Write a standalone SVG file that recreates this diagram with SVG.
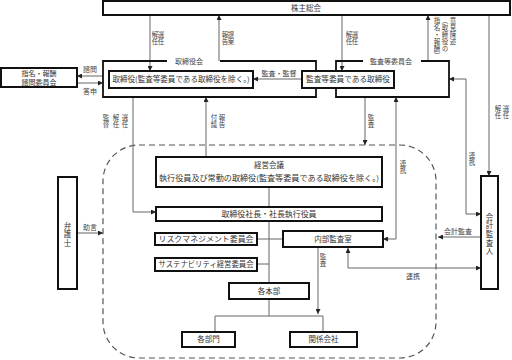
<svg xmlns="http://www.w3.org/2000/svg" width="512" height="360" viewBox="0 0 512 360">
<style>
text{font-family:"Noto Sans CJK JP","Noto Sans CJK SC",sans-serif;fill:#333}
.bt{font-size:7.5px;text-anchor:middle}
.lb{font-size:7px;text-anchor:middle;fill:#444}
.vt{font-size:6.5px;writing-mode:vertical-rl;fill:#444;letter-spacing:0.5px}
.vb{font-size:7.5px;writing-mode:vertical-rl;letter-spacing:1.2px}
.box{fill:#fff;stroke:#111;stroke-width:2}
.obox{fill:none;stroke:#111;stroke-width:1.8}
.ln{fill:none;stroke:#666;stroke-width:1}
.ar{fill:none;stroke:#666;stroke-width:1;marker-end:url(#ah)}
.ar2{fill:none;stroke:#666;stroke-width:1;marker-end:url(#ah);marker-start:url(#ah)}
.dash{fill:none;stroke:#555;stroke-width:1.2;stroke-dasharray:6 4}
</style>
<defs>
<marker id="ah" viewBox="0 0 10 10" refX="10" refY="5" markerWidth="5" markerHeight="5" markerUnits="userSpaceOnUse" orient="auto-start-reverse">
<path d="M0,0 L10,5 L0,10 Z" fill="#222"/>
</marker>
</defs>

<rect class="dash" x="103" y="145" width="333" height="213" rx="36"/>

<g id="connectors">
<path class="ar" d="M150,15 V71"/>
<path class="ar" d="M219,61 V15"/>
<path class="ar" d="M342,15 V71"/>
<path class="ar" d="M428,61 V15"/>
<path class="ar" d="M489,15 V176"/>
<path class="ar" d="M103,76 H77"/>
<path class="ar" d="M77,83 H103"/>
<path class="ar" d="M302,79 H253"/>
<path class="ar2" d="M481,214 H466 V79 H449"/>
<path class="ar" d="M133,97 V212 H156"/>
<path class="ar" d="M206,157 V97"/>
<path class="ar" d="M365,97 V145"/>
<path class="ar2" d="M396,97 V239 H383"/>
<path class="ar" d="M481,237 H438"/>
<path class="ar2" d="M348,248 V268 H481"/>
<path class="ar" d="M77,233 H103"/>
<path class="ln" d="M269,187 V207 M269,221 V283 M257,239 H283 M257,264 H269 M269,299 V316 M215,316 H323 M215,316 V332 M323,316 V332"/>
<path class="ar" d="M318,248 V314"/>
</g>

<g id="labels">
<text class="vt" x="161" y="31">選任</text>
<text class="vt" x="155" y="31">解任</text>
<text class="vt" x="231" y="31">提案</text>
<text class="vt" x="225" y="31">報告</text>
<text class="vt" x="355" y="31">選任</text>
<text class="vt" x="349" y="31">解任</text>
<text class="vt" x="453" y="17">意見陳述</text>
<text class="vt" x="445" y="17">（取締役の</text>
<text class="vt" x="437" y="17">指名・報酬）</text>
<text class="vt" x="506" y="105">選任</text>
<text class="vt" x="498" y="105">解任</text>
<text class="vt" x="125" y="114">選任</text>
<text class="vt" x="116" y="114">解任</text>
<text class="vt" x="106" y="114">監督</text>
<text class="vt" x="222" y="114">報告</text>
<text class="vt" x="214" y="114">付議</text>
<text class="vt" x="371" y="114">監査</text>
<text class="vt" x="403" y="160">連携</text>
<text class="vt" x="472" y="152">連携</text>
<text class="vt" x="323" y="253">監査</text>
<text class="lb" x="90" y="71.5">諮問</text>
<text class="lb" x="90" y="93.5">答申</text>
<text class="lb" x="279" y="75.5">監査・監督</text>
<text class="lb" x="458" y="234">会計監査</text>
<text class="lb" x="413" y="278.5">連携</text>
<text class="lb" x="90" y="229.5">助言</text>
</g>

<g id="shareholders">
<rect class="box" x="103" y="1" width="407" height="14"/>
<text class="bt" x="306" y="10.8">株主総会</text>
</g>

<g id="board">
<path class="obox" d="M167,61 H103 V97 H316 V61 H220"/>
<text class="lb" x="189" y="63.5">取締役会</text>
</g>

<g id="audit-committee">
<path class="obox" d="M363,61 H336 V97 H449 V61 H421"/>
<text class="lb" x="391" y="63.5">監査等委員会</text>
</g>

<g id="directors">
<rect class="box" x="109" y="71" width="144" height="17"/>
<text class="bt" x="181" y="82" textLength="137" lengthAdjust="spacingAndGlyphs">取締役(監査等委員である取締役を除く。)</text>
</g>

<g id="audit-directors">
<rect class="box" x="302" y="71" width="92" height="17"/>
<text class="bt" x="348" y="82" textLength="84" lengthAdjust="spacingAndGlyphs">監査等委員である取締役</text>
</g>

<g id="nomination">
<rect class="box" x="1" y="68" width="76" height="19"/>
<text class="bt" x="39" y="76" style="font-size:7px">指名・報酬</text>
<text class="bt" x="39" y="84.5" style="font-size:7px">諮問委員会</text>
</g>

<g id="management-meeting">
<rect class="box" x="156" y="157" width="226" height="30"/>
<text class="bt" x="269" y="167.5">経営会議</text>
<text class="bt" x="269" y="180.5" textLength="220" lengthAdjust="spacingAndGlyphs">執行役員及び常勤の取締役(監査等委員である取締役を除く。)</text>
</g>

<g id="president">
<rect class="box" x="156" y="207" width="226" height="14"/>
<text class="bt" x="269" y="216.5" textLength="95" lengthAdjust="spacingAndGlyphs">取締役社長・社長執行役員</text>
</g>

<g id="risk">
<rect class="box" x="155" y="233" width="102" height="12"/>
<text class="bt" x="206" y="241.5" textLength="95" lengthAdjust="spacingAndGlyphs">リスクマネジメント委員会</text>
</g>

<g id="sustainability">
<rect class="box" x="155" y="258" width="102" height="13"/>
<text class="bt" x="206" y="267" textLength="95" lengthAdjust="spacingAndGlyphs">サステナビリティ経営委員会</text>
</g>

<g id="internal-audit">
<rect class="box" x="283" y="231" width="100" height="16"/>
<text class="bt" x="333" y="241.5">内部監査室</text>
</g>

<g id="headquarters">
<rect class="box" x="229" y="283" width="80" height="16"/>
<text class="bt" x="269" y="293.5">各本部</text>
</g>

<g id="departments">
<rect class="box" x="182" y="332" width="53" height="15"/>
<text class="bt" x="208.5" y="342">各部門</text>
</g>

<g id="affiliates">
<rect class="box" x="290" y="332" width="67" height="15"/>
<text class="bt" x="323.5" y="342">関係会社</text>
</g>

<g id="auditor">
<rect class="box" x="481" y="176" width="17" height="113"/>
<text class="vb" x="489.5" y="213">会計監査人</text>
</g>

<g id="lawyer">
<rect class="box" x="58" y="177" width="19" height="112"/>
<text class="vb" x="67.5" y="222">弁護士</text>
</g>
</svg>
